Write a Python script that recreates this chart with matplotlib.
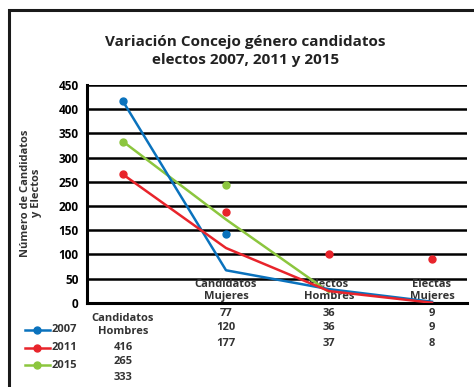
import numpy as np
import matplotlib.pyplot as plt
from matplotlib.patches import Rectangle

plt.rcParams['font.family'] = ['Open Sans', 'DejaVu Sans']
plt.rcParams['font.weight'] = 'bold'

# categorias del eje x
categorias = ['Candidatos\nHombres', 'Candidatos\nMujeres', 'Electos\nHombres', 'Electas\nMujeres']
anios = ['2007', '2011', '2015']
colores = ['#0a72bd', '#e8242b', '#8cc63e']

# tabla de datos bajo el grafico
tabla_2007 = [416, 77, 36, 9]
tabla_2011 = [265, 120, 36, 9]
tabla_2015 = [333, 177, 37, 8]

# trazos de las series
linea_2007 = [416, 67, 28, 2]
linea_2011 = [265, 113, 24, 0]
linea_2015 = [333, 172, 22]

# puntos sueltos (categoria, valor, serie)
puntos_cat = [1, 1, 1, 2, 3]
puntos_val = [141, 188, 244, 100, 90]
puntos_serie = [0, 1, 2, 1, 1]

fig = plt.figure(figsize=(4.74, 3.87), dpi=100)
fig.patches.append(Rectangle((9/474, -0.1), 1.2, 1 - 10/387 + 0.1, transform=fig.transFigure,
                             fill=False, lw=2.2, ec='#1a1a1a'))

ax = fig.add_axes([87/474, 1 - 302.7/387, 380/474, (302.7 - 85)/387])
ax.set_xlim(-0.35, 3.34)
ax.set_ylim(0, 450)
ax.set_yticks(np.arange(0, 451, 50))
ax.set_xticks([])
ax.tick_params(axis='y', length=0, labelsize=8.5, pad=6)
for t in ax.get_yticklabels():
    t.set_fontweight('bold')
for y in np.arange(50, 451, 50):
    ax.axhline(y, color='black', lw=1.8, zorder=1)
for s in ['top', 'right']:
    ax.spines[s].set_visible(False)
for s in ['left', 'bottom']:
    ax.spines[s].set_linewidth(2.2)

lineas = [linea_2007, linea_2011, linea_2015]
orden = [3, 4, 2]
for i, vals in enumerate(lineas):
    x = np.arange(len(vals))
    ax.plot(x, vals, color=colores[i], lw=1.8, zorder=orden[i])
    ax.plot(x[0], vals[0], 'o', color=colores[i], ms=5, zorder=5)

for c, v, s in zip(puntos_cat, puntos_val, puntos_serie):
    ax.plot(c, v, 'o', color=colores[s], ms=5, zorder=5)

# etiquetas de categoria dentro del area
for i in range(1, 4):
    ax.text(i, 1, categorias[i], ha='center', va='bottom', fontsize=8,
            fontweight='bold', color='#333333', linespacing=1.2, zorder=1.5)

fig.text(31/474, 1 - 193/387, 'Número de Candidatos\ny Electos', rotation=90,
         ha='center', va='center', fontsize=8, fontweight='bold', color='#333333',
         linespacing=1.05)

fig.text(0.518, 1 - 51/387, 'Variación Concejo género candidatos\nelectos 2007, 2011 y 2015',
         ha='center', va='center', fontsize=11, fontweight='bold', color='#222222',
         linespacing=1.45)

# tabla de datos
tabla = [tabla_2007, tabla_2011, tabla_2015]
tr = ax.get_xaxis_transform()
fila_y = [313, 328, 343]
for j in range(3):
    for i in range(1, 4):
        ax.text(i, 1 - (fila_y[j] - 85) / (302.7 - 85), str(tabla[j][i]), transform=tr,
                ha='center', va='center', fontsize=8, fontweight='bold', color='#333333')
ax.text(0, 1 - (325 - 85) / (302.7 - 85), categorias[0], transform=tr, ha='center',
        va='center', fontsize=8, fontweight='bold', color='#333333', linespacing=1.35)
for j in range(3):
    ax.text(0, 1 - (347 + 15 * j - 85) / (302.7 - 85), str(tabla[j][0]), transform=tr,
            ha='center', va='center', fontsize=8, fontweight='bold', color='#333333')

# leyenda
for j in range(3):
    yy = 1 - (330 + 17.5 * j) / 387
    fig.add_artist(plt.Line2D([25/474, 50/474], [yy, yy], color=colores[j], lw=1.8))
    fig.add_artist(plt.Line2D([37/474], [yy], marker='o', color=colores[j], ms=5))
    fig.text(52/474, yy, anios[j], ha='left', va='center', fontsize=8,
             fontweight='bold', color='#333333')

fig.savefig('out.png', dpi=100)
